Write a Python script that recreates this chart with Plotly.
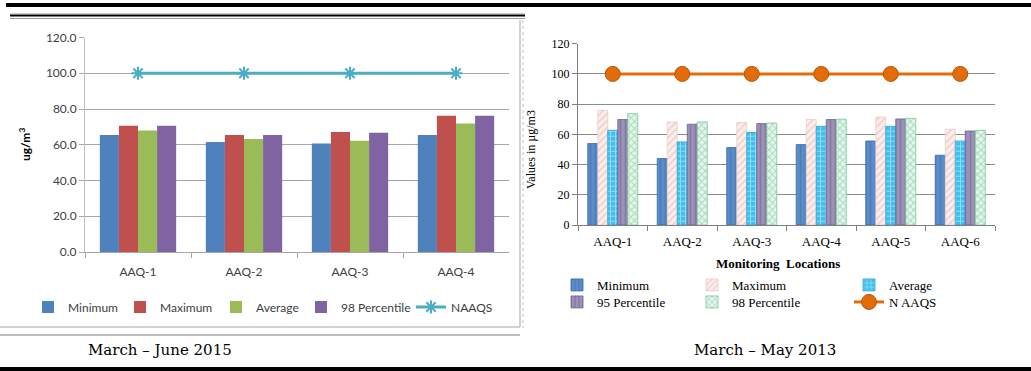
import plotly.graph_objects as go

# ---------------- Data ----------------
left_locations = ["AAQ-1", "AAQ-2", "AAQ-3", "AAQ-4"]
left_minimum = [65.4, 61.5, 60.7, 65.4]
left_maximum = [70.6, 65.4, 67.1, 76.2]
left_average = [68.0, 63.2, 62.2, 71.9]
left_p98 = [70.6, 65.4, 66.7, 76.2]
left_naaqs = [100, 100, 100, 100]

right_locations = ["AAQ-1", "AAQ-2", "AAQ-3", "AAQ-4", "AAQ-5", "AAQ-6"]
right_minimum = [53.9, 44.0, 51.3, 53.2, 55.6, 46.2]
right_maximum = [75.9, 68.2, 67.8, 69.8, 71.5, 63.4]
right_average = [62.7, 55.0, 61.2, 65.3, 65.3, 55.6]
right_p95 = [69.8, 66.7, 67.1, 69.8, 70.2, 62.2]
right_p98 = [73.7, 68.2, 67.5, 70.0, 70.6, 62.7]
right_naaqs = [100, 100, 100, 100, 100, 100]

left_caption = "March – June 2015"
right_caption = "March – May 2013"

FW, FH = 1031, 371


def px(x):
    return x / FW


def py(y):
    return 1 - y / FH


fig = go.Figure()

# ---------------- Left chart ----------------
lfont = dict(family="Lato, Carlito, sans-serif", size=12, color="#404040")
left_series = [
    ("Minimum", left_minimum, "#4F81BD", 68),
    ("Maximum", left_maximum, "#C0504D", 160),
    ("Average", left_average, "#9BBB59", 256),
    ("98 Percentile", left_p98, "#8064A2", 341),
]
legend_cfg = {}
n_leg = 0


def new_legend(text_x, y, font):
    global n_leg
    n_leg += 1
    key = "legend" if n_leg == 1 else f"legend{n_leg}"
    legend_cfg[key] = dict(orientation="h", x=px(text_x - 40), xanchor="left",
                           y=py(y), yanchor="middle", font=font,
                           bgcolor="rgba(0,0,0,0)")
    return key


for name, vals, col, tx in left_series:
    fig.add_trace(go.Bar(x=left_locations, y=vals, name=name, marker_color=col,
                         marker_line_width=0, xaxis="x", yaxis="y",
                         legend=new_legend(tx, 307, lfont)))
fig.add_trace(go.Scatter(x=left_locations, y=left_naaqs, name="NAAQS", mode="lines+markers",
                         line=dict(color="#4BACC6", width=3),
                         marker=dict(symbol="asterisk-open", size=11,
                                     line=dict(color="#4BACC6", width=2)),
                         xaxis="x", yaxis="y", legend=new_legend(451, 307, lfont)))

# ---------------- Right chart ----------------
serif = "Liberation Serif, Times New Roman, serif"
rfont = dict(family=serif, size=13, color="#000000")
rtick = dict(family=serif, size=12, color="#000000")
rstyles = [
    ("Minimum", right_minimum, "#5B8DCB", "|", "#3F6FA8", "#3A6AA3", 597, 285),
    ("Maximum", right_maximum, "#FCEEEC", "/", "#E3B3AD", "#E6CFCB", 732, 285),
    ("Average", right_average, "#3FC0EE", "+", "#E8F8FF", "#2FA0D0", 889, 285),
    ("95 Percentile", right_p95, "#9D91B8", "|", "#6E6291", "#6E6291", 597, 302),
    ("98 Percentile", right_p98, "#E4F5EA", "x", "#5FBF88", "#7CC79A", 732, 302),
]
for name, vals, bg, shape, fg, lc, tx, ty in rstyles:
    fig.add_trace(go.Bar(x=right_locations, y=vals, name=name,
                         marker=dict(color=bg, line=dict(color=lc, width=0.8),
                                     pattern=dict(shape=shape, fgcolor=fg, fillmode="overlay",
                                                  size=5, solidity=0.35)),
                         xaxis="x2", yaxis="y2", legend=new_legend(tx, ty, rfont)))
fig.add_trace(go.Scatter(x=right_locations, y=right_naaqs, name="N AAQS", mode="lines+markers",
                         line=dict(color="#E46C0A", width=3),
                         marker=dict(symbol="circle", size=15, color="#E36C09",
                                     line=dict(color="#B65708", width=1)),
                         xaxis="x2", yaxis="y2", legend=new_legend(889, 302, rfont)))


def hline(x0, x1, y, color, width, dash="solid"):
    return dict(type="line", xref="paper", yref="paper", x0=px(x0), x1=px(x1), y0=py(y), y1=py(y),
                line=dict(color=color, width=width, dash=dash))


def vline(x, y0, y1, color, width, dash="solid"):
    return dict(type="line", xref="paper", yref="paper", x0=px(x), x1=px(x), y0=py(y0), y1=py(y1),
                line=dict(color=color, width=width, dash=dash))


shapes = [
    # top thick black rule
    dict(type="rect", xref="paper", yref="paper", x0=px(6), x1=1, y0=py(7), y1=py(3),
         fillcolor="black", line_width=0, layer="above"),
    # double rule on the left panel
    hline(10, 525, 13.5, "#C8CCD8", 1),
    hline(10, 525, 15.5, "black", 2),
    hline(10, 525, 18.5, "#9A9A9A", 1),
    # left chart frame (right and bottom edges)
    vline(520, 20, 327, "#A6A6A6", 1),
    hline(0, 520, 327, "#A6A6A6", 1),
    # right panel dotted border
    vline(523, 20, 328, "#B8C4D8", 1, "dot"),
    # thin rule above left caption
    hline(0, 520, 335, "#7F7F7F", 1),
    # bottom thick black rule
    dict(type="rect", xref="paper", yref="paper", x0=0, x1=1, y0=0, y1=py(367),
         fillcolor="black", line_width=0, layer="above"),
]


def ann(text, x, y, font, angle=0):
    return dict(text=text, xref="paper", yref="paper", x=px(x), y=py(y),
                xanchor="center", yanchor="middle", textangle=angle,
                showarrow=False, font=font)


cap_font = dict(family="DejaVu Serif, serif", size=15, color="#000000")
annotations = [
    ann("ug/m<sup>3</sup>", 25, 145,
        dict(family="Lato, sans-serif", size=12, color="#000000", weight="bold"), -90),
    ann("Values in µg/m3", 531, 150, rtick, -90),
    ann("<b>Monitoring  Locations</b>", 778, 263, rfont),
    ann(left_caption, 160, 350, cap_font),
    ann(right_caption, 765, 350, cap_font),
]

fig.update_layout(
    width=FW, height=FH,
    margin=dict(l=0, r=0, t=0, b=0, autoexpand=False),
    paper_bgcolor="white", plot_bgcolor="white",
    barmode="group", bargap=0.28, bargroupgap=0,
    showlegend=True,
    shapes=shapes, annotations=annotations,
    xaxis=dict(domain=[px(85), px(509)], anchor="y", type="category",
               tickson="boundaries", ticks="outside", ticklen=5, tickcolor="#A6A6A6",
               showline=True, linecolor="#A6A6A6", linewidth=1, showgrid=False,
               tickfont=lfont, ticklabelstandoff=9),
    yaxis=dict(domain=[py(252), py(37.5)], anchor="x", range=[0, 120], dtick=20,
               tickformat=".1f", ticks="outside", ticklen=5, tickcolor="#A6A6A6",
               showline=True, linecolor="#BFBFBF", linewidth=1,
               showgrid=True, gridcolor="#A6A6A6", gridwidth=1, zeroline=False,
               tickfont=lfont),
    xaxis2=dict(domain=[px(578), px(995)], anchor="y2", type="category",
                tickson="boundaries", ticks="outside", ticklen=5, tickcolor="#7F7F7F",
                showline=True, linecolor="#7F7F7F", linewidth=1, showgrid=False,
                tickfont=rfont, ticklabelstandoff=4),
    yaxis2=dict(domain=[py(225), py(43.7)], anchor="x2", range=[0, 120], dtick=20,
                ticks="outside", ticklen=5, tickcolor="#7F7F7F",
                showline=True, linecolor="#7F7F7F", linewidth=1,
                showgrid=True, gridcolor="#8C8C8C", gridwidth=1, zeroline=False,
                tickfont=rtick),
    **legend_cfg,
)

fig.write_html("out.html")
